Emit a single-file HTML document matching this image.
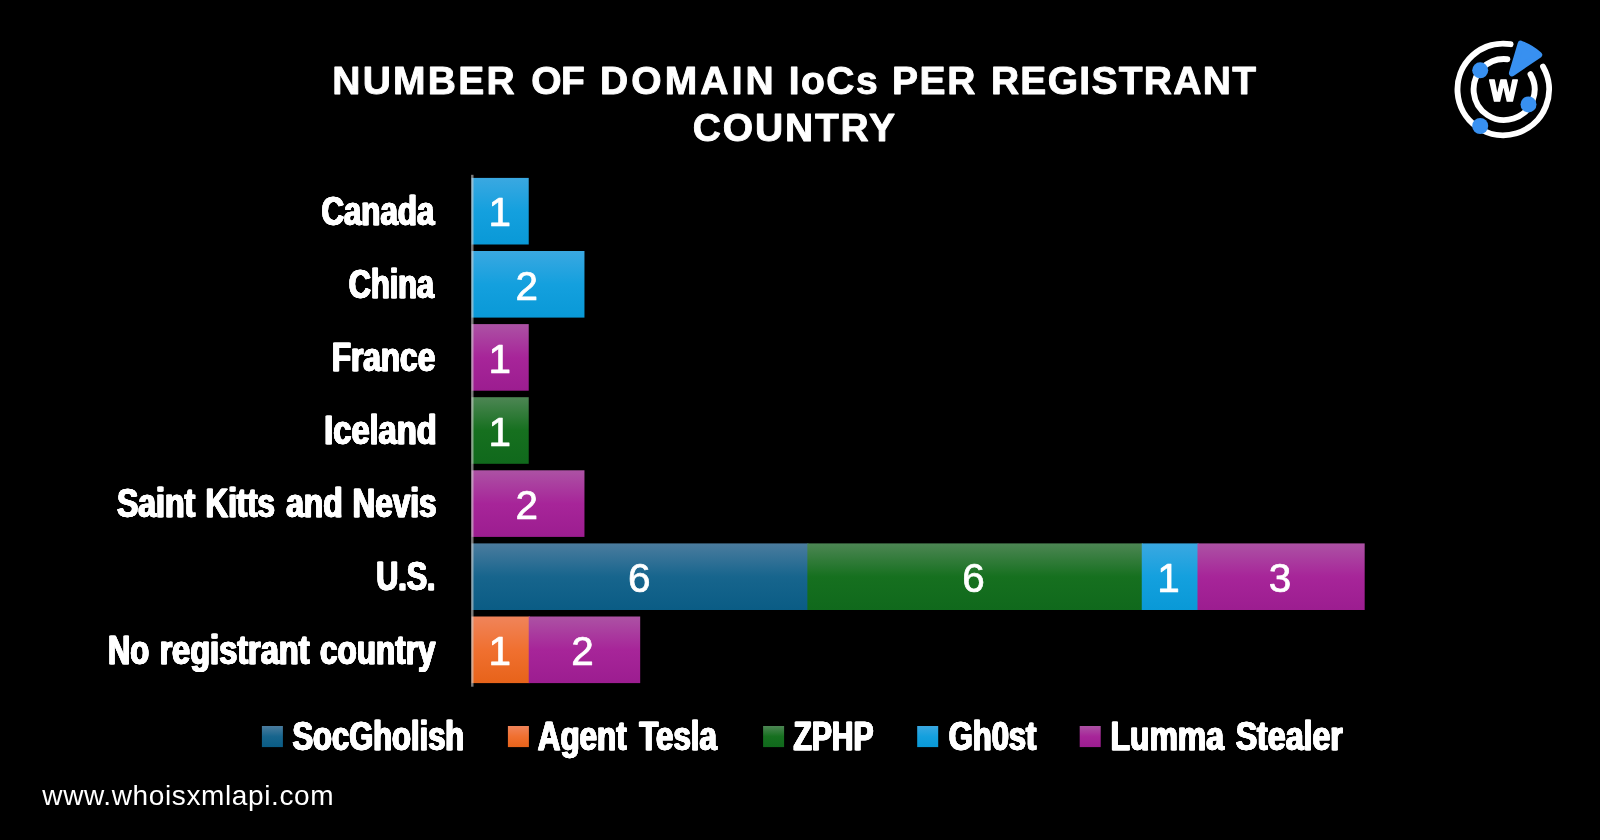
<!DOCTYPE html>
<html lang="en"><head><meta charset="utf-8"><title>Number of domain IoCs per registrant country</title>
<style>
html,body{margin:0;padding:0;background:#000;}
body{width:1600px;height:840px;overflow:hidden;font-family:"Liberation Sans",sans-serif;}
svg{display:block;opacity:.999;}
text{font-family:"Liberation Sans",sans-serif;fill:#fff;}
.t{font-weight:700;font-size:39px;stroke:#fff;stroke-width:0.9px;stroke-linejoin:round;}
.cb{font-weight:700;font-size:40px;stroke:#fff;stroke-width:0.45px;stroke-linejoin:round;filter:drop-shadow(0.95px 0 0 #fff) drop-shadow(-0.95px 0 0 #fff);}
.n{font-size:40.5px;text-anchor:middle;stroke:#fff;stroke-width:0.7px;stroke-linejoin:round;}
.ft{font-size:28px;}
</style></head><body>
<svg width="1600" height="840" viewBox="0 0 1600 840">
<defs>
<linearGradient id="gs" x1="0" y1="0" x2="0" y2="1"><stop offset="0" stop-color="#4b7c9e"/><stop offset="0.5" stop-color="#17658d"/><stop offset="1" stop-color="#0a5c85"/></linearGradient>
<linearGradient id="gz" x1="0" y1="0" x2="0" y2="1"><stop offset="0" stop-color="#4d8654"/><stop offset="0.5" stop-color="#16701f"/><stop offset="1" stop-color="#10691c"/></linearGradient>
<linearGradient id="gg" x1="0" y1="0" x2="0" y2="1"><stop offset="0" stop-color="#3aa8e1"/><stop offset="0.5" stop-color="#14a0de"/><stop offset="1" stop-color="#0999d7"/></linearGradient>
<linearGradient id="gl" x1="0" y1="0" x2="0" y2="1"><stop offset="0" stop-color="#ac52a4"/><stop offset="0.5" stop-color="#a72599"/><stop offset="1" stop-color="#9c1d90"/></linearGradient>
<linearGradient id="ga" x1="0" y1="0" x2="0" y2="1"><stop offset="0" stop-color="#f0845a"/><stop offset="0.5" stop-color="#f07030"/><stop offset="1" stop-color="#e7631a"/></linearGradient>
</defs>
<rect width="1600" height="840" fill="#000"/>
<text class="t" y="93.7"><tspan x="332.30" textLength="182.40" lengthAdjust="spacing">NUMBER</tspan> <tspan x="531.27" textLength="53.67" lengthAdjust="spacing">OF</tspan> <tspan x="599.89" textLength="173.89" lengthAdjust="spacing">DOMAIN</tspan> <tspan x="788.83" textLength="88.85" lengthAdjust="spacing">IoCs</tspan> <tspan x="891.89" textLength="83.42" lengthAdjust="spacing">PER</tspan> <tspan x="990.89" textLength="265.09" lengthAdjust="spacing">REGISTRANT</tspan></text>
<text class="t" x="692.85" y="140.5" textLength="202.27" lengthAdjust="spacing">COUNTRY</text>
<rect x="471.60" y="177.90" width="57.13" height="66.6" fill="url(#gg)"/>
<text class="n" x="499.87" y="226.40">1</text>
<text class="cb" x="321.88" y="224.90" textLength="112.97" lengthAdjust="spacingAndGlyphs">Canada</text>
<rect x="471.60" y="251.00" width="112.86" height="66.6" fill="url(#gg)"/>
<text class="n" x="526.73" y="299.50">2</text>
<text class="cb" x="349.34" y="298.00" textLength="85.22" lengthAdjust="spacingAndGlyphs">China</text>
<rect x="471.60" y="324.10" width="57.13" height="66.6" fill="url(#gl)"/>
<text class="n" x="499.87" y="372.60">1</text>
<text class="cb" x="332.15" y="371.10" textLength="103.57" lengthAdjust="spacingAndGlyphs">France</text>
<rect x="471.60" y="397.20" width="57.13" height="66.6" fill="url(#gz)"/>
<text class="n" x="499.87" y="445.70">1</text>
<text class="cb" x="324.67" y="444.20" textLength="112.48" lengthAdjust="spacingAndGlyphs">Iceland</text>
<rect x="471.60" y="470.30" width="112.86" height="66.6" fill="url(#gl)"/>
<text class="n" x="526.73" y="518.80">2</text>
<text class="cb" y="517.30"><tspan x="117.42" textLength="78.26" lengthAdjust="spacingAndGlyphs">Saint</tspan> <tspan x="206.12" textLength="69.37" lengthAdjust="spacingAndGlyphs">Kitts</tspan> <tspan x="286.67" textLength="56.61" lengthAdjust="spacingAndGlyphs">and</tspan> <tspan x="353.05" textLength="83.98" lengthAdjust="spacingAndGlyphs">Nevis</tspan></text>
<rect x="471.60" y="543.40" width="336.78" height="66.6" fill="url(#gs)"/>
<rect x="807.38" y="543.40" width="335.38" height="66.6" fill="url(#gz)"/>
<rect x="1141.76" y="543.40" width="56.73" height="66.6" fill="url(#gg)"/>
<rect x="1197.49" y="543.40" width="167.19" height="66.6" fill="url(#gl)"/>
<text class="n" x="639.19" y="591.90">6</text>
<text class="n" x="973.57" y="591.90">6</text>
<text class="n" x="1168.62" y="591.90">1</text>
<text class="n" x="1280.09" y="591.90">3</text>
<text class="cb" x="376.74" y="590.40" textLength="59.36" lengthAdjust="spacingAndGlyphs">U.S.</text>
<rect x="471.60" y="616.50" width="58.13" height="66.6" fill="url(#ga)"/>
<rect x="528.73" y="616.50" width="111.46" height="66.6" fill="url(#gl)"/>
<text class="n" x="499.87" y="665.00">1</text>
<text class="n" x="582.46" y="665.00">2</text>
<text class="cb" y="663.50"><tspan x="108.49" textLength="41.28" lengthAdjust="spacingAndGlyphs">No</tspan> <tspan x="159.93" textLength="150.16" lengthAdjust="spacingAndGlyphs">registrant</tspan> <tspan x="320.62" textLength="115.35" lengthAdjust="spacingAndGlyphs">country</tspan></text>
<rect x="471.1" y="174.8" width="2.4" height="511.9" fill="#d0d0d0" fill-opacity="0.6"/>
<rect x="261.9" y="726" width="21" height="21.1" fill="url(#gs)"/>
<text class="cb" x="293.01" y="750.20" textLength="171.74" lengthAdjust="spacingAndGlyphs">SocGholish</text>
<rect x="507.9" y="726" width="21" height="21.1" fill="url(#ga)"/>
<text class="cb" y="750.20"><tspan x="538.26" textLength="88.93" lengthAdjust="spacingAndGlyphs">Agent</tspan> <tspan x="639.80" textLength="77.52" lengthAdjust="spacingAndGlyphs">Tesla</tspan></text>
<rect x="763.1" y="726" width="21" height="21.1" fill="url(#gz)"/>
<text class="cb" x="793.95" y="750.20" textLength="80.17" lengthAdjust="spacingAndGlyphs">ZPHP</text>
<rect x="917.2" y="726" width="21" height="21.1" fill="url(#gg)"/>
<text class="cb" x="949.34" y="750.20" textLength="87.49" lengthAdjust="spacingAndGlyphs">Gh0st</text>
<rect x="1079.7" y="726" width="21" height="21.1" fill="url(#gl)"/>
<text class="cb" y="750.20"><tspan x="1110.93" textLength="113.48" lengthAdjust="spacingAndGlyphs">Lumma</tspan> <tspan x="1236.17" textLength="107.21" lengthAdjust="spacingAndGlyphs">Stealer</tspan></text>
<text class="ft" x="42.36" y="804.7" textLength="291.22" lengthAdjust="spacing">www.whoisxmlapi.com</text>
<g id="logo" fill="none" stroke="#fff" stroke-width="5.9" stroke-linecap="round">
<path d="M1543.0 66.6 A45.8 45.8 0 1 1 1510.6 44.2"/>
<path d="M1530.5 74.2 A30.5 30.5 0 1 1 1507.4 59.2"/>
</g>
<path d="M1520.8 43.9 Q1530.9 47.6 1539 54.8 L1512.1 73.1 Z" fill="#3890f0" stroke="#3890f0" stroke-width="6.4" stroke-linejoin="round"/>
<circle cx="1480.2" cy="70.3" r="8" fill="#3890f0"/>
<circle cx="1528.5" cy="104.4" r="8" fill="#3890f0"/>
<circle cx="1480.2" cy="126" r="8" fill="#3890f0"/>
<text x="1503.5" y="100.6" font-size="38.5" font-weight="700" text-anchor="middle" textLength="27.5" lengthAdjust="spacingAndGlyphs" stroke="#fff" stroke-width="1.4" stroke-linejoin="round">w</text>

</svg></body></html>
